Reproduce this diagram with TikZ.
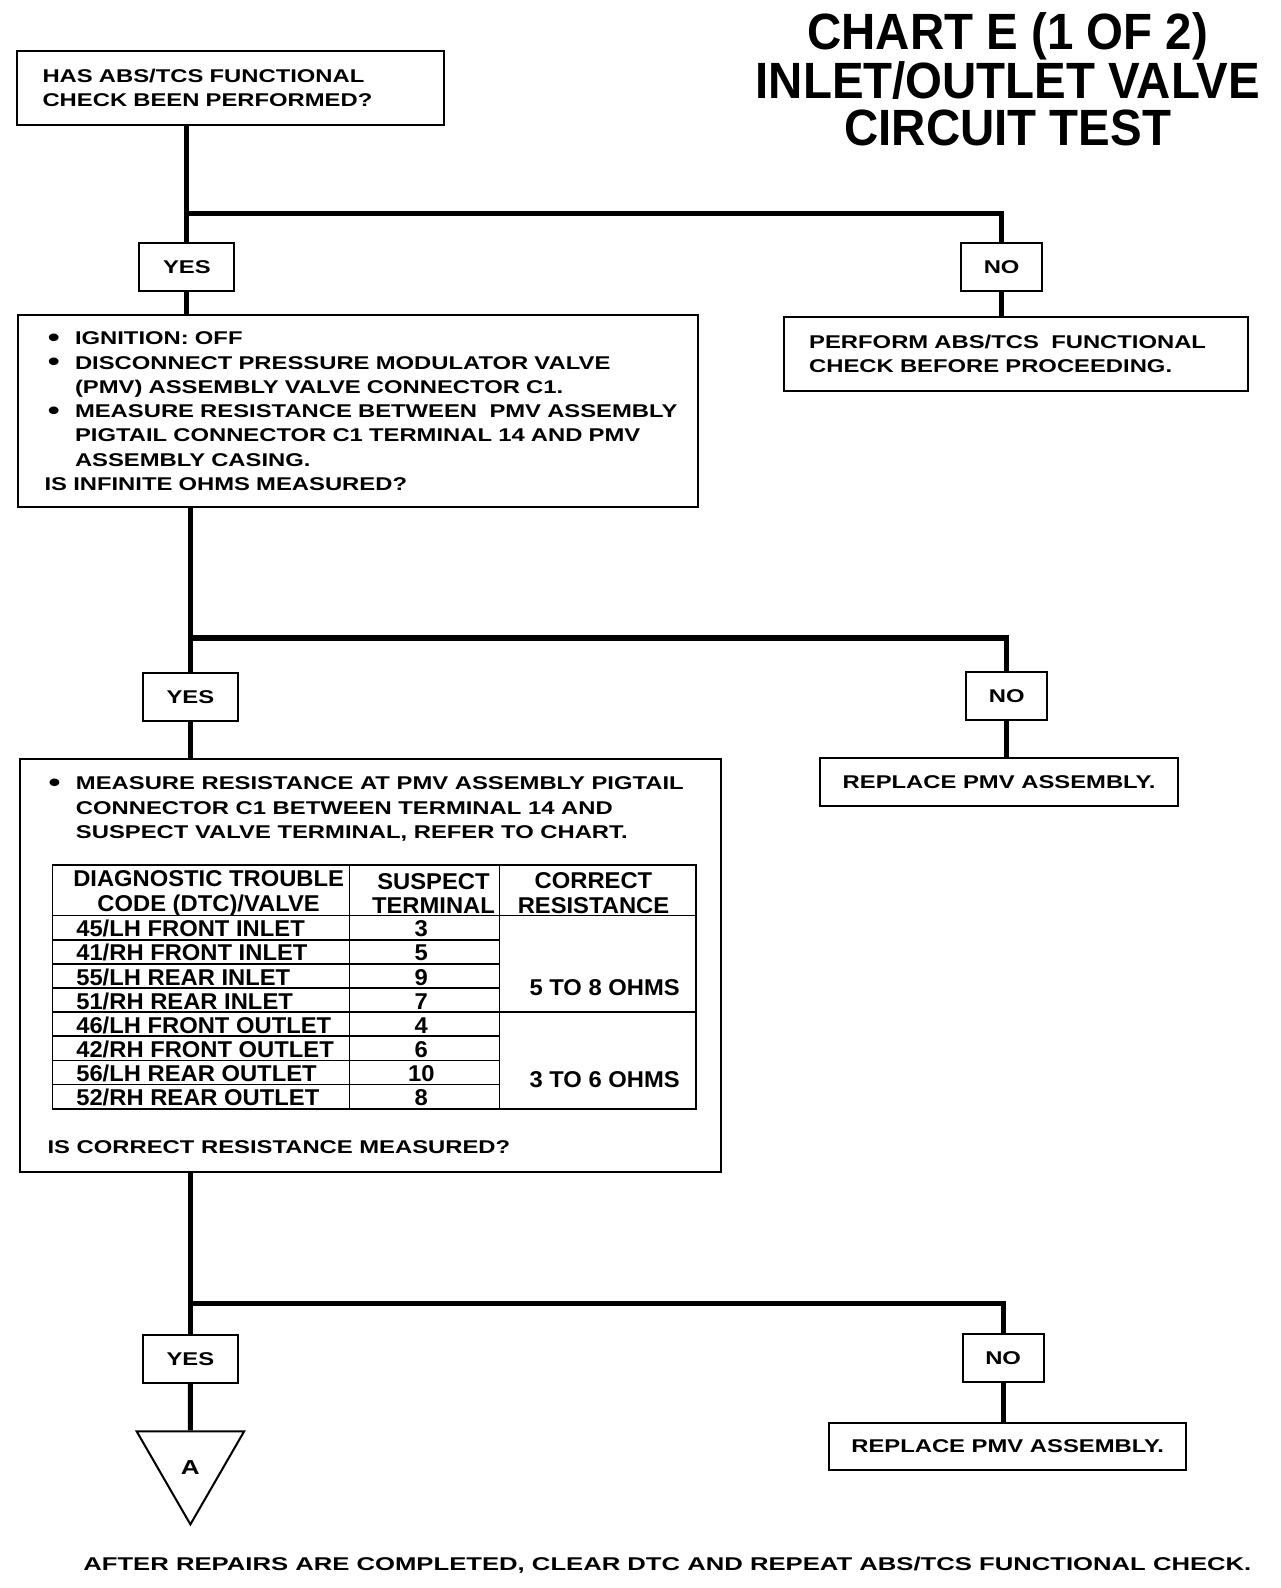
\documentclass[tikz,border=0pt]{standalone}
\usepackage{fontspec}
\usepackage{tikz}
\usetikzlibrary{shapes.geometric}
\setmainfont{Liberation Sans}
\newfontfamily\boxfont[FakeStretch=1.29]{Liberation Sans}
\newfontfamily\footfont[FakeStretch=1.39]{Liberation Sans}
\newfontfamily\tablefont[FakeStretch=1.04]{Liberation Sans}
\newfontfamily\titlefont[FakeStretch=0.93]{Liberation Sans}
\newcommand{\bul}[1]{\mbox{\hspace*{1.8pt}\makebox[15.5pt][l]{\raisebox{-0.9pt}{\fontsize{15}{13.8}\selectfont\textbullet}}#1}}
\newcommand{\cont}[1]{\mbox{\hspace*{17.3pt}#1}}
\tikzset{
  flow/.style={line width=2.9pt},
  tabline/.style={line width=0.9pt},
  stepbox/.style={draw, line width=1.15pt, inner ysep=0pt, align=left,
    font=\boxfont\bfseries\fontsize{10.5}{13.8}\selectfont},
  answer/.style={draw, line width=1.15pt, inner sep=0pt, minimum height=27.1pt,
    font=\boxfont\bfseries\fontsize{10.5}{13.8}\selectfont},
  cell/.style={inner sep=0pt, font=\tablefont\bfseries\fontsize{13}{13.8}\selectfont},
}
\begin{document}
\begin{tikzpicture}[x=0.576pt, y=-0.576pt]
\useasboundingbox (0,0) rectangle (1264,1568);

\node[font=\titlefont\bfseries\fontsize{29}{26.5}\selectfont, align=center] (title) at (995,78)
  {CHART E (1 OF 2)\\INLET/OUTLET VALVE\\CIRCUIT TEST};

\node[stepbox, inner xsep=14.4pt, text width=213.7pt, minimum height=42pt] (box1) at (227.5,86.5)
  {HAS ABS/TCS FUNCTIONAL\\CHECK BEEN PERFORMED?};
\node[answer, minimum width=54.1pt] (yes1) at (184.5,263.5) {YES};
\node[answer, minimum width=46.1pt] (no1) at (989,263.5) {NO};
\node[stepbox, inner xsep=15pt, text width=356.5pt, minimum height=109.4pt] (box2) at (353.5,406)
  {\bul{IGNITION: OFF}\\
   \bul{DISCONNECT PRESSURE MODULATOR VALVE}\\
   \cont{(PMV) ASSEMBLY VALVE CONNECTOR C1.}\\
   \bul{MEASURE RESISTANCE BETWEEN~ PMV ASSEMBLY}\\
   \cont{PIGTAIL CONNECTOR C1 TERMINAL 14 AND PMV}\\
   \cont{ASSEMBLY CASING.}\\
   IS INFINITE OHMS MEASURED?};
\node[stepbox, inner xsep=14.4pt, text width=235pt, minimum height=42pt] (box3) at (1003,349.5)
  {PERFORM ABS/TCS~ FUNCTIONAL\\CHECK BEFORE PROCEEDING.};

\node[answer, minimum width=54.1pt] (yes2) at (188,688.5) {YES};
\node[answer, minimum width=46.1pt] (no2) at (994,687.5) {NO};
\node[stepbox, minimum width=398.6pt, minimum height=235pt] (box4) at (366,953) {};
\node[stepbox, draw=none, inner sep=0pt, anchor=west] (m4) at (44,799)
  {\bul{MEASURE RESISTANCE AT PMV ASSEMBLY PIGTAIL}\\
   \cont{CONNECTOR C1 BETWEEN TERMINAL 14 AND}\\
   \cont{SUSPECT VALVE TERMINAL, REFER TO CHART.}};
\node[stepbox, draw=none, inner sep=0pt, anchor=west] (q4) at (46,1133)
  {IS CORRECT RESISTANCE MEASURED?};
\node[stepbox, align=center, inner sep=0pt, minimum width=203.3pt, minimum height=27.6pt] (box5) at (986.5,772)
  {REPLACE PMV ASSEMBLY.};

\draw[tabline] (52,854) rectangle (687,1095);
\draw[tabline] (345,854) -- (345,1095) (493,854) -- (493,1095);
\draw[tabline] (52,904) -- (687,904) (52,999) -- (687,999);
\foreach \y in {928,952,975.5,1023,1047,1071}
  \draw[tabline] (52,\y) -- (493,\y);
\node[cell, align=center] (h1) at (206,882) {DIAGNOSTIC TROUBLE\\CODE (DTC)/VALVE};
\node[cell, align=center] (h2) at (428,882) {SUSPECT\\TERMINAL};
\node[cell, align=center] (h3) at (586,882) {CORRECT\\RESISTANCE};
\foreach \code/\term [count=\i] in {{45/LH FRONT INLET}/3, {41/RH FRONT INLET}/5,
    {55/LH REAR INLET}/9, {51/RH REAR INLET}/7, {46/LH FRONT OUTLET}/4,
    {42/RH FRONT OUTLET}/6, {56/LH REAR OUTLET}/10, {52/RH REAR OUTLET}/8}{
  \node[cell, anchor=base west] (code\i) at (75,901+23.875*\i) {\code};
  \node[cell, anchor=base] (term\i) at (416,901+23.875*\i) {\term};
}
\node[cell] (r1) at (597,975) {5 TO 8 OHMS};
\node[cell] (r2) at (597,1066) {3 TO 6 OHMS};

\node[answer, minimum width=54.1pt] (yes3) at (188,1342) {YES};
\node[answer, minimum width=46.1pt] (no3) at (990.5,1341) {NO};
\node[draw, line width=1.15pt, regular polygon, regular polygon sides=3, shape border rotate=180,
  minimum size=70.5pt, inner sep=0pt, font=\boxfont\bfseries\fontsize{11.5}{13.8}\selectfont] (a) at (188,1444)
  {\raisebox{-7pt}[0pt][0pt]{A}};
\node[stepbox, align=center, inner sep=0pt, minimum width=202.8pt, minimum height=26.5pt] (box6) at (995,1428)
  {REPLACE PMV ASSEMBLY.};

\node[font=\footfont\bfseries\fontsize{10.5}{13.8}\selectfont] (foot) at (659,1546)
  {AFTER REPAIRS ARE COMPLETED, CLEAR DTC AND REPEAT ABS/TCS FUNCTIONAL CHECK.};

\coordinate (j1) at (0,211);
\coordinate (j2) at (0,630);
\coordinate (j3) at (0,1287);
\draw[flow] (box1.south -| yes1) -- (yes1.north) (yes1 |- j1) -| (no1.north);
\draw[flow] (yes1.south) -- (yes1.south |- box2.north);
\draw[flow] (no1.south) -- (no1.south |- box3.north);
\draw[flow] (box2.south -| yes2) -- (yes2.north) (yes2 |- j2) -| (no2.north);
\draw[flow] (yes2.south) -- (yes2.south |- box4.north);
\draw[flow] (no2.south) -- (no2.south |- box5.north);
\draw[flow] (box4.south -| yes3) -- (yes3.north) (yes3 |- j3) -| (no3.north);
\draw[flow] (yes3.south) -- (a.north);
\draw[flow] (no3.south) -- (no3.south |- box6.north);
\end{tikzpicture}
\end{document}
